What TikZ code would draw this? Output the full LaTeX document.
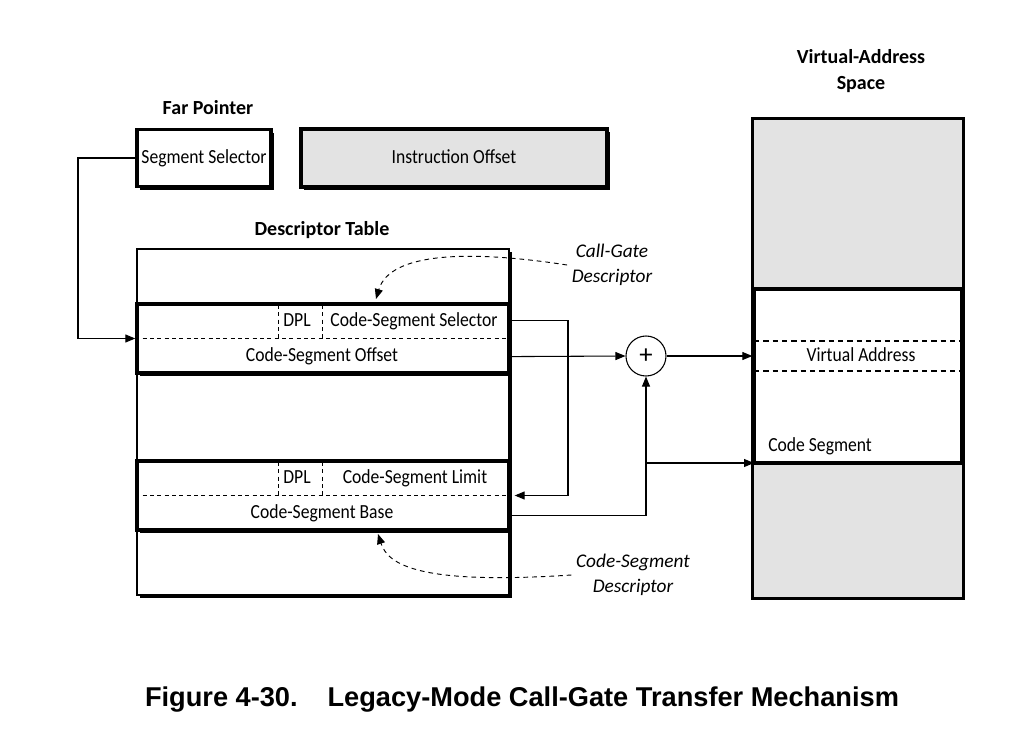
\documentclass[tikz,border=0pt]{standalone}
\usepackage{fontspec}
\setmainfont{Carlito}
\newfontfamily\bodyfont[FakeStretch=0.88]{Carlito}
\newfontfamily\capfont{Liberation Sans}
\usetikzlibrary{arrows.meta,shadows,calc}
\begin{document}
\begin{tikzpicture}[x=0.75pt,y=-0.75pt,
  font=\bodyfont\fontsize{15}{17}\selectfont,
  bw/.style={minimum width=#1*0.75pt},
  bh/.style={minimum height=#1*0.75pt},
  shad/.style={general shadow={fill=black,shadow xshift=2.6pt,shadow yshift=-2.6pt}},
  thickbox/.style={draw,line width=2.5pt,inner sep=0pt,shad},
  thinbox/.style={draw,line width=0.8pt,inner sep=0pt,shad,fill=white},
  conn/.style={line width=0.8pt},
  tip/.style={-{Triangle[length=7.5pt,width=6pt]}},
  dsh/.style={line width=0.7pt,dash pattern=on 3pt off 2.5pt},
  curv/.style={line width=0.7pt,dash pattern=on 3.5pt off 3pt,-{Triangle[length=7.5pt,width=6pt]}},
  ttl/.style={font=\fontsize{15}{18}\selectfont\bfseries},
  lbl/.style={font=\fontsize{14.5}{19}\selectfont\itshape,align=center},
  rowtxt/.style={text height=1.87ex,text depth=0.13ex},
  grayfill/.style={fill=black!11}
]
\useasboundingbox (0,0) rectangle (1025,750);

% Far pointer
\node[ttl] (fptitle) at (208,108) {Far Pointer};
\node[thickbox,fill=white,bw=134,bh=57,rowtxt] (ss) at (204,158) {Segment Selector};
\node[thickbox,grayfill,bw=306,bh=58,rowtxt] (io) at (454,158) {Instruction Offset};

% Descriptor table
\node[ttl] (dttitle) at (322,230) {Descriptor Table};
\node[thinbox,bw=372,bh=346] (dt) at (323,422) {};
\node[thickbox,fill=white,bw=372,bh=69] (cg) at (323,338.5) {};
\node[thickbox,fill=white,bw=372,bh=69] (cs) at (323,495.5) {};

% call gate row contents
\draw[dsh] (cg.west) -- (cg.east);
\coordinate (cgd1) at (278,305);
\coordinate (cgd2) at (322,305);
\draw[dsh] (cgd1) -- (cgd1 |- cg.west);
\draw[dsh] (cgd2) -- (cgd2 |- cg.west);
\node[rowtxt] (cgdpl) at (297,321) {DPL};
\node[rowtxt] (cgsel) at (414,321) {Code-Segment Selector};
\node[rowtxt] (cgoff) at (322,356) {Code-Segment Offset};

% code segment row contents
\draw[dsh] (cs.west) -- (cs.east);
\coordinate (csd1) at (278,462);
\coordinate (csd2) at (322,462);
\draw[dsh] (csd1) -- (csd1 |- cs.west);
\draw[dsh] (csd2) -- (csd2 |- cs.west);
\node[rowtxt] (csdpl) at (297,478) {DPL};
\node[rowtxt] (cslim) at (415,478) {Code-Segment Limit};
\node[rowtxt] (csbase) at (322,513) {Code-Segment Base};

% labels
\node[lbl] (cglbl) at (612,265) {Call-Gate\\Descriptor};
\node[lbl] (cslbl) at (633,575) {Code-Segment\\Descriptor};

% virtual address space
\node[ttl,font=\fontsize{15}{20}\selectfont\bfseries,align=center] (vastitle) at (861,71) {Virtual-Address\\Space};
\node[thickbox,fill=white,bw=208,bh=477] (vas) at (858,358.5) {};
\fill[grayfill] (vas.north west) rectangle (962,289);
\fill[grayfill] (754,463) rectangle (vas.south east);
\draw[line width=2.5pt] (vas.north west) rectangle (vas.south east);
\coordinate (vsep1) at (754,289);
\coordinate (csb) at (754,463);
\draw[line width=2.5pt] (vsep1) -- (vsep1 -| vas.east);
\draw[line width=2.5pt] (csb) -- (csb -| vas.east);
\coordinate (va1) at (754,341);
\coordinate (va2) at (754,371);
\draw[line width=1.8pt,dash pattern=on 4pt off 3pt] (va1) -- (va1 -| vas.east);
\draw[line width=1.8pt,dash pattern=on 4pt off 3pt] (va2) -- (va2 -| vas.east);
\node[rowtxt] (valbl) at (861,356) {Virtual Address};
\node[anchor=west,inner sep=0pt] (cseglbl) at (768,446) {Code Segment};

% adder
\node[draw,circle,line width=0.8pt,minimum size=40*0.75pt,inner sep=0pt,font=\fontsize{20}{20}\selectfont] (plus) at (646,356) {+};

% connectors
\coordinate (lx) at (78,0);
\draw[conn,tip] (ss.west) -| (lx |- cg.west) -- (cg.west);

\coordinate (selout) at ($(cg.north east)!0.25!(cg.south east)$);
\coordinate (offout) at ($(cg.north east)!0.75!(cg.south east)$);
\coordinate (baseout) at ($(cs.north east)!0.77!(cs.south east)$);
\coordinate (rx) at (568,0);
\draw[conn,tip] (selout) -| (rx |- cs.east) -- ([xshift=3pt]cs.east);
\draw[conn,tip] (offout) -- (plus.west);
\draw[conn,tip] (plus.east) -- (plus.east -| vas.west);
\draw[conn,tip] (baseout) -| (plus.south);
\coordinate (br) at (plus.south |- csb);
\draw[conn,tip] (br) -- (csb);

% dashed curved pointers
\draw[curv] (cglbl.west) .. controls (470,250) and (390,252) .. (376,299);
\draw[curv] (cslbl.west) .. controls (420,585) and (388,565) .. (378,534);

% caption
\node[font=\capfont\fontsize{20.4}{24}\selectfont\bfseries] (caption) at (522,700) {Figure 4-30.\hspace{1.1em}Legacy-Mode Call-Gate Transfer Mechanism};
\end{tikzpicture}
\end{document}
